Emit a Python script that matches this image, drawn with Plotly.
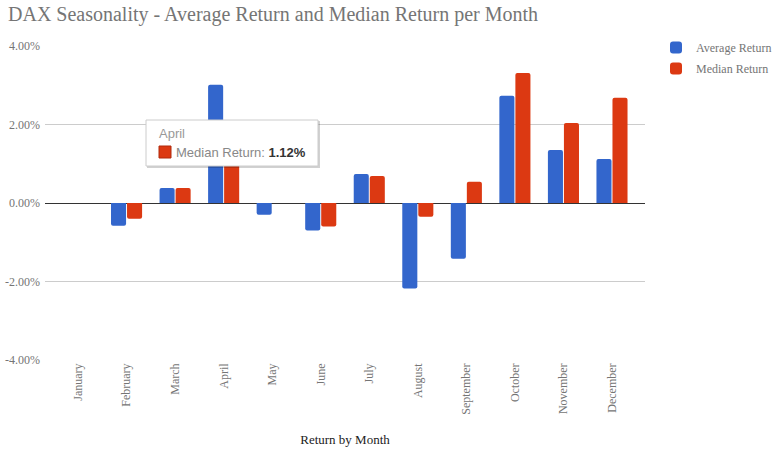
import plotly.graph_objects as go

months = ["January", "February", "March", "April", "May", "June", "July",
          "August", "September", "October", "November", "December"]
average_return = [0.0, -0.58, 0.38, 3.01, -0.30, -0.70, 0.74, -2.18, -1.42, 2.73, 1.35, 1.12]
median_return = [0.0, -0.40, 0.38, 1.12, 0.0, -0.60, 0.69, -0.35, 0.54, 3.31, 2.04, 2.68]
y_ticks = [-4, -2, 0, 2, 4]
y_tick_labels = ["-4.00%", "-2.00%", "0.00%", "2.00%", "4.00%"]

tooltip_month = "April"
tooltip_series = "Median Return"
tooltip_value = median_return[months.index(tooltip_month)]

W, H = 782, 457
L, R, T, B = 45, 782 - 645, 46, 457 - 360
PW, PH = W - L - R, H - T - B


def px(x):
    return (x - L) / PW


def py(y):
    return (H - B - y) / PH


serif = "Liberation Serif, Times New Roman, serif"
sans = "Liberation Sans, Arial, sans-serif"

fig = go.Figure()
fig.add_trace(go.Bar(name="Average Return", x=months, y=average_return, legendgroup="a",
                     marker=dict(color="#3366cc", cornerradius=2, line=dict(width=0))))
fig.add_trace(go.Bar(name="Median Return", x=months, y=median_return, legendgroup="b",
                     marker=dict(color="#dc3912", cornerradius=2, line=dict(width=0))))

# tooltip box
bx0, bx1, by0, by1 = 146, 318, 120, 166
shapes = [
    dict(type="rect", xref="paper", yref="paper", x0=px(bx0 + 1), x1=px(bx1 + 2),
         y0=py(by0 + 1), y1=py(by1 + 2), fillcolor="rgba(0,0,0,0.18)", line=dict(width=0), layer="above"),
    dict(type="rect", xref="paper", yref="paper", x0=px(bx0), x1=px(bx1),
         y0=py(by0), y1=py(by1), fillcolor="white", line=dict(color="#cccccc", width=1), layer="above"),
    dict(type="rect", xref="paper", yref="paper", x0=px(159), x1=px(171),
         y0=py(146), y1=py(158), fillcolor="#dc3912", line=dict(color="#b02a0c", width=1), layer="above"),
]
annotations = [
    dict(xref="paper", yref="paper", x=px(157), y=py(133), xanchor="left", yanchor="middle",
         text=tooltip_month, showarrow=False, font=dict(family=sans, size=13, color="#999999")),
    dict(xref="paper", yref="paper", x=px(174), y=py(152), xanchor="left", yanchor="middle",
         text=f"{tooltip_series}: <b><span style='color:#333333'>{tooltip_value:.2f}%</span></b>",
         showarrow=False, font=dict(family=sans, size=13, color="#888888")),
]

fig.update_layout(
    width=W, height=H,
    margin=dict(l=L, r=R, t=T, b=B, autoexpand=False),
    paper_bgcolor="white", plot_bgcolor="white",
    title=dict(text="DAX Seasonality - Average Return and Median Return per Month",
               x=8 / W, xanchor="left", y=1 - 14 / H, yanchor="middle",
               font=dict(family=serif, size=20, color="#757575")),
    barmode="group", bargap=0.34, bargroupgap=0.06,
    legend=dict(x=px(656), y=py(33), xanchor="left", yanchor="top",
                font=dict(family=serif, size=12, color="#757575"),
                traceorder="grouped", tracegroupgap=2,
                itemwidth=30, bgcolor="rgba(0,0,0,0)"),
    xaxis=dict(range=[-0.68, 11.68], tickangle=-90, showgrid=False,
               tickfont=dict(family=serif, size=12, color="#757575"),
               title=dict(text="Return by Month", font=dict(family=serif, size=13, color="#222222"),
                          standoff=21),
               showline=False, ticks=""),
    yaxis=dict(range=[-4, 4], tickvals=y_ticks, ticktext=y_tick_labels,
               showgrid=True, gridcolor="#cccccc", gridwidth=1,
               zeroline=True, zerolinecolor="#333333", zerolinewidth=1,
               tickfont=dict(family=serif, size=12, color="#757575"), ticks="",
               ticklabelstandoff=4),
    shapes=shapes, annotations=annotations,
    hovermode=False,
)

fig.write_html("out.html", config={"displayModeBar": False},
               post_script="document.body.style.margin='0';")
